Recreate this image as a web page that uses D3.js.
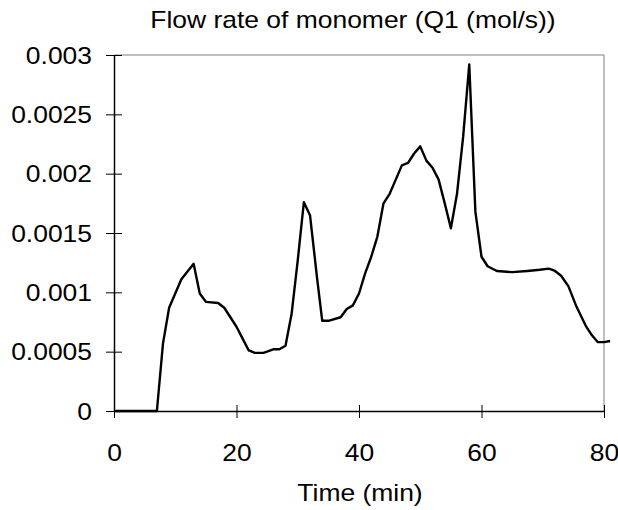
<!DOCTYPE html>
<html>
<head>
<meta charset="utf-8">
<script src="https://cdn.jsdelivr.net/npm/d3@7"></script>
<style>
  html, body { margin: 0; padding: 0; background: #fff; }
  svg text { font-family: "Liberation Sans", Arial, sans-serif; fill: #000; }
</style>
</head>
<body>
<svg id="chart" width="618" height="510"></svg>
<script>
const title = "Flow rate of monomer (Q1 (mol/s))";
const xLabel = "Time (min)";
const xTicks = [0, 20, 40, 60, 80];
const yTicks = [0, 0.0005, 0.001, 0.0015, 0.002, 0.0025, 0.003];
const yTickLabels = ["0", "0.0005", "0.001", "0.0015", "0.002", "0.0025", "0.003"];
const time = [0, 7, 8, 9, 10, 11, 13, 14, 15, 17, 18, 19, 20, 21, 22, 23, 24.4, 26, 27, 28, 29, 30, 31, 32, 33.2, 34, 35, 37, 38, 39, 40, 41, 42, 43, 44, 45, 46, 47, 48, 49, 50, 51, 52, 53, 54, 55, 56, 57, 58, 59, 60, 61, 62.5, 65, 67.5, 69.5, 71, 72, 73, 74.2, 75.5, 77, 78, 79, 80, 81];
const flow = [0, 0, 0.00057, 0.00087, 0.00099, 0.00111, 0.00124, 0.00099, 0.00092, 0.00091, 0.00087, 0.00079, 0.00071, 0.00061, 0.00051, 0.00049, 0.00049, 0.00052, 0.00052, 0.00055, 0.00082, 0.00127, 0.00176, 0.00165, 0.0011, 0.00076, 0.00076, 0.00079, 0.00086, 0.00089, 0.00099, 0.00116, 0.0013, 0.00147, 0.00175, 0.00183, 0.00195, 0.00207, 0.00209, 0.00217, 0.00223, 0.00211, 0.00205, 0.00195, 0.00175, 0.00154, 0.00183, 0.00231, 0.00292, 0.00168, 0.0013, 0.00122, 0.00118, 0.00117, 0.00118, 0.00119, 0.0012, 0.00118, 0.00114, 0.00105, 0.00088, 0.00072, 0.00064, 0.00058, 0.00058, 0.00059];

const FS = 23, SX = 1.15;
const svg = d3.select("#chart");
const L = 114, R = 604, T = 55, B = 411;
const x = d3.scaleLinear().domain([0, 80]).range([L, R]);
const y = d3.scaleLinear().domain([0, 0.003]).range([B, T]);

// frame (top/right)
svg.append("path").attr("d", `M${L},${T}H${R}V${B}`).attr("fill", "none").attr("stroke", "#808080").attr("stroke-width", 1);

// Y axis
const yAxis = d3.axisLeft(y).tickValues(yTicks).tickSize(8).tickFormat((d, i) => yTickLabels[i]);
const gy = svg.append("g").attr("transform", `translate(${L},0)`).call(yAxis);
gy.select(".domain").attr("stroke", "#000").attr("stroke-width", 1.5).attr("d", `M0.5,${T}V${B}`);
gy.selectAll(".tick line").attr("x1", -8).attr("x2", 8).attr("stroke", "#000");
gy.selectAll(".tick text")
  .attr("font-size", FS).attr("font-family", "Liberation Sans, Arial, sans-serif")
  .attr("x", 0).attr("dy", null).attr("y", 0).attr("text-anchor", "end")
  .attr("transform", `translate(-22,8) scale(${SX},1)`);

// X axis
const xAxis = d3.axisBottom(x).tickValues(xTicks).tickSize(7);
const gx = svg.append("g").attr("transform", `translate(0,${B})`).call(xAxis);
gx.select(".domain").attr("stroke", "#000").attr("stroke-width", 1.5).attr("d", `M${L},0.5H${R}`);
gx.selectAll(".tick line").attr("y1", -6).attr("y2", 7).attr("stroke", "#000");
gx.selectAll(".tick text")
  .attr("font-size", FS).attr("font-family", "Liberation Sans, Arial, sans-serif")
  .attr("x", 0).attr("y", 0).attr("dy", null).attr("text-anchor", "middle")
  .attr("transform", `translate(0,50) scale(${SX},1)`);

// line
const line = d3.line().x((d, i) => x(time[i])).y(d => y(d));
svg.append("path").datum(flow).attr("d", line).attr("fill", "none").attr("stroke", "#000").attr("stroke-width", 2.4).attr("stroke-linejoin", "round");

// title and axis label
svg.append("text").attr("transform", `translate(353,28) scale(${SX},1)`).attr("text-anchor", "middle").attr("font-size", FS).text(title);
svg.append("text").attr("transform", `translate(360,501) scale(${SX},1)`).attr("text-anchor", "middle").attr("font-size", FS).text(xLabel);
</script>
</body>
</html>
